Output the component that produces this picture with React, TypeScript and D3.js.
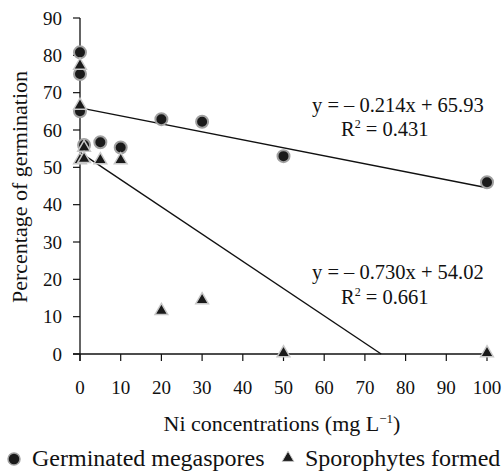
import React from 'react';
import * as d3 from 'd3';

interface IPoint {
  x: number;
  y: number;
}

const germX = [0, 0, 0, 1, 5, 10, 20, 30, 50, 100];
const germY = [80.8, 75, 65, 56, 56.7, 55.3, 62.9, 62.2, 53, 46];

const sporoX = [0, 0, 0, 1, 1, 5, 10, 20, 30, 50, 100];
const sporoY = [77, 66.3, 51.7, 55, 52, 51.7, 51.7, 11.3, 14.2, 0, 0];

const xTicks = [0, 10, 20, 30, 40, 50, 60, 70, 80, 90, 100];
const yTicks = [0, 10, 20, 30, 40, 50, 60, 70, 80, 90];

const germFit = { slope: -0.214, intercept: 65.93 };
const sporoFit = { slope: -0.73, intercept: 54.02 };

const FONT = 'Liberation Serif';
const INK = '#111';

const x = d3.scaleLinear().domain([0, 100]).range([80, 487]);
const y = d3.scaleLinear().domain([0, 90]).range([354, 18]);

const line = d3
  .line<IPoint>()
  .x((d) => x(d.x))
  .y((d) => y(d.y));

const tri = d3.symbol().type(d3.symbolTriangle).size(70)()!;
const triSmall = d3.symbol().type(d3.symbolTriangle).size(60)()!;

const T = (props: React.SVGProps<SVGTextElement>) => (
  <text fontFamily={FONT} fontSize={19} fill={INK} {...props} />
);

const ScatterChart = () => {
  const germData = germX.map((v, i) => ({ x: v, y: germY[i] }));
  const sporoData = sporoX.map((v, i) => ({ x: v, y: sporoY[i] }));

  const germLine = line([
    { x: 0, y: germFit.intercept },
    { x: 100, y: germFit.intercept + germFit.slope * 100 },
  ])!;
  const sporoLine = line([
    { x: 0, y: sporoFit.intercept },
    { x: -sporoFit.intercept / sporoFit.slope, y: 0 },
  ])!;

  return (
    <div style={{ position: 'absolute', left: 0, top: 0 }}>
      <svg width={503} height={472} style={{ background: 'white', display: 'block' }}>
        {/* x axis */}
        <line x1={x(0) - 7} x2={x(100)} y1={y(0)} y2={y(0)} stroke={INK} strokeWidth={1.3} />
        {xTicks.map((t) => (
          <g key={'x' + t} transform={`translate(${x(t)},${y(0)})`}>
            <line y2={7} stroke={INK} strokeWidth={1.2} />
            <T y={40} textAnchor='middle'>
              {t}
            </T>
          </g>
        ))}

        {/* y axis */}
        <line x1={x(0)} x2={x(0)} y1={y(0) + 7} y2={y(90)} stroke={INK} strokeWidth={1.3} />
        {yTicks.map((t) => (
          <g key={'y' + t} transform={`translate(${x(0)},${y(t)})`}>
            <line x2={-7} stroke={INK} strokeWidth={1.2} />
            <T x={-18} dy='0.35em' textAnchor='end'>
              {t}
            </T>
          </g>
        ))}

        {/* trend lines */}
        <path d={germLine} fill='none' stroke={INK} strokeWidth={1.4} />
        <path d={sporoLine} fill='none' stroke={INK} strokeWidth={1.4} />

        {/* points */}
        {germData.map((d, i) => (
          <circle key={'g' + i} cx={x(d.x)} cy={y(d.y)} r={6} fill='#1a1a1a' stroke='#a0a0a0' strokeWidth={2} />
        ))}
        {sporoData.map((d, i) => (
          <path
            key={'s' + i}
            d={tri}
            transform={`translate(${x(d.x)},${y(d.y) - 1})`}
            fill='#1a1a1a'
            stroke='#c8c8c8'
            strokeWidth={1.5}
          />
        ))}

        {/* equations */}
        <T x={312} y={112} fontSize={20.5}>
          y = – 0.214x + 65.93
        </T>
        <T x={341} y={136} fontSize={20.5}>
          R<tspan dy={-8} fontSize={12}>2</tspan>
          <tspan dy={8}> = 0.431</tspan>
        </T>
        <T x={312} y={279} fontSize={20.5}>
          y = – 0.730x + 54.02
        </T>
        <T x={341} y={304} fontSize={20.5}>
          R<tspan dy={-8} fontSize={12}>2</tspan>
          <tspan dy={8}> = 0.661</tspan>
        </T>

        {/* axis titles */}
        <T x={282} y={431} textAnchor='middle' fontSize={22}>
          Ni concentrations (mg L<tspan dy={-8} fontSize={13}>−1</tspan>
          <tspan dy={8}>)</tspan>
        </T>
        <T transform='translate(27,187) rotate(-90)' textAnchor='middle' fontSize={22}>
          Percentage of germination
        </T>

        {/* legend */}
        <circle cx={14} cy={459} r={6} fill='#1a1a1a' stroke='#a0a0a0' strokeWidth={1.5} />
        <T x={32} y={466} fontSize={24}>
          Germinated megaspores
        </T>
        <path d={triSmall} transform='translate(288,458)' fill='#1a1a1a' stroke='#c8c8c8' strokeWidth={1} />
        <T x={305} y={466} fontSize={24}>
          Sporophytes formed
        </T>
      </svg>
    </div>
  );
};

export default ScatterChart;
